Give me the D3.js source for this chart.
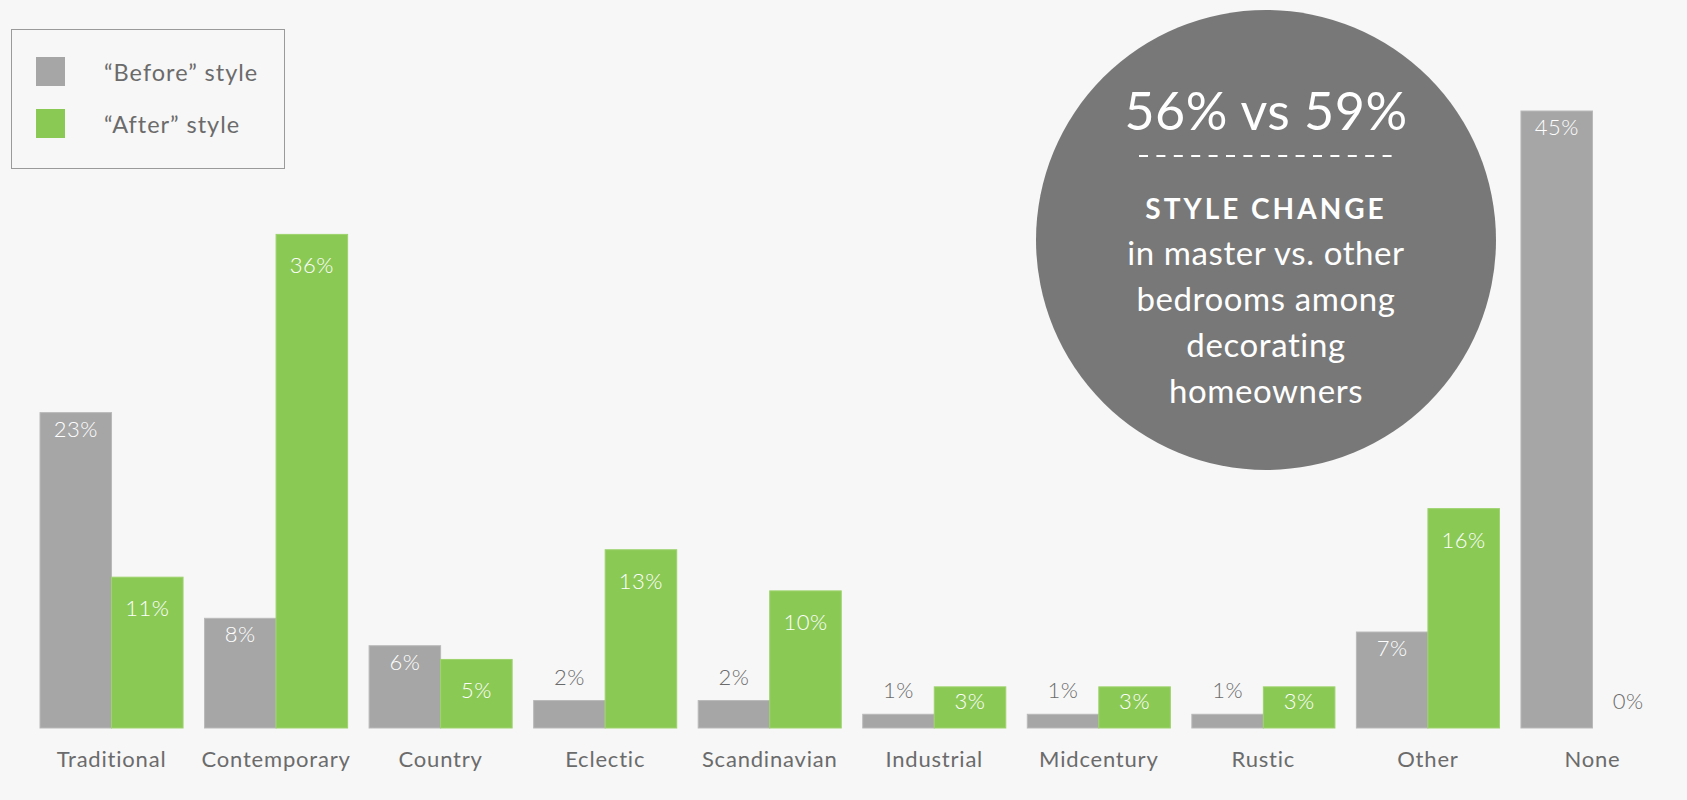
<!DOCTYPE html>
<html>
<head>
<meta charset="utf-8">
<script src="https://cdn.jsdelivr.net/npm/d3@7"></script>
<style>
  html, body { margin: 0; padding: 0; background: #f7f7f7; }
  svg { display: block; }
  text { font-family: Lato, "Open Sans", sans-serif; }
</style>
</head>
<body>
<svg id="chart" width="1687" height="800"></svg>
<script>
// Bedroom decorating styles, share of homeowners (%)
const categories = ["Traditional", "Contemporary", "Country", "Eclectic", "Scandinavian",
                    "Industrial", "Midcentury", "Rustic", "Other", "None"];
const beforeValues = [23, 8, 6, 2, 2, 1, 1, 1, 7, 45];
const afterValues  = [11, 36, 5, 13, 10, 3, 3, 3, 16, 0];
const seriesNames  = ["\u201CBefore\u201D style", "\u201CAfter\u201D style"];
const seriesColors = ["#a6a6a6", "#8bc955"];
const seriesEdges  = ["#b9b9b9", "#9dd36c"];

// Call-out bubble text
const headline = "56% vs 59%";
const calloutTitle = "STYLE CHANGE";
const calloutLines = ["in master vs. other", "bedrooms among", "decorating", "homeowners"];

const W = 1687, H = 800;
const baseY = 728, plotLeft = 40, plotRight = 1664;
const textGrey = "#6b6b6b";

const svg = d3.select("#chart");
svg.append("rect").attr("width", W).attr("height", H).attr("fill", "#f7f7f7");

const x0 = d3.scaleBand().domain(categories).range([plotLeft, plotRight])
  .paddingInner(0.1307).paddingOuter(0);
const x1 = d3.scaleBand().domain([0, 1]).range([0, x0.bandwidth()]).padding(0);
const y = d3.scaleLinear().domain([0, 45]).range([baseY, 111]);

const rows = categories.map((c, i) => ({
  category: c,
  values: [beforeValues[i], afterValues[i]]
}));

// Call-out circle (drawn under the bars)
const cx = 1266, cy = 240, r = 230;
const callout = svg.append("g");
callout.append("circle").attr("cx", cx).attr("cy", cy).attr("r", r).attr("fill", "#787878");
callout.append("text").attr("x", cx).attr("y", 130).attr("text-anchor", "middle")
  .attr("fill", "#fff").attr("font-size", 52).attr("font-weight", 400)
  .attr("letter-spacing", 0.5).text(headline);
callout.append("line").attr("x1", 1139).attr("x2", 1392).attr("y1", 156).attr("y2", 156)
  .attr("stroke", "#fff").attr("stroke-width", 2).attr("stroke-dasharray", "9,8.4");
callout.append("text").attr("x", cx).attr("y", 219).attr("text-anchor", "middle")
  .attr("fill", "#fff").attr("font-size", 28).attr("font-weight", 700)
  .attr("letter-spacing", 3).text(calloutTitle);
callout.selectAll("text.line").data(calloutLines).join("text").attr("class", "line")
  .attr("x", cx).attr("y", (d, i) => 265 + i * 46).attr("text-anchor", "middle")
  .attr("fill", "#fff").attr("font-size", 33).attr("letter-spacing", 0.6).text(d => d);

// Grouped bars
const groups = svg.append("g").selectAll("g").data(rows).join("g")
  .attr("transform", d => `translate(${x0(d.category)},0)`);

const cells = groups.selectAll("g.cell")
  .data(d => d.values.map((v, s) => ({ v, s })))
  .join("g").attr("class", "cell");

cells.append("rect")
  .attr("x", d => x1(d.s))
  .attr("y", d => y(d.v))
  .attr("width", x1.bandwidth())
  .attr("height", d => baseY - y(d.v))
  .attr("fill", d => seriesColors[d.s])
  .attr("stroke", d => d.v === 0 ? seriesColors[d.s] : seriesEdges[d.s])
  .attr("stroke-width", d => d.v === 0 ? 1.5 : 1);

// Value labels: inside near the top for tall bars, above for short ones
cells.append("text")
  .attr("x", d => x1(d.s) + x1.bandwidth() / 2)
  .attr("y", d => {
    const top = y(d.v), h = baseY - top;
    if (h > 30) return Math.min(top + (d.s === 0 ? 24 : 39), baseY - 19);
    return d.v === 0 ? baseY - 19 : top - 16;
  })
  .attr("text-anchor", "middle")
  .attr("font-size", 22)
  .attr("font-weight", 300)
  .attr("letter-spacing", 0.5)
  .attr("fill", d => (baseY - y(d.v) > 30) ? "#ffffff" : textGrey)
  .text(d => d.v + "%");

// Category axis (labels only)
const xAxis = svg.append("g").attr("transform", `translate(0,${baseY})`)
  .call(d3.axisBottom(x0).tickSize(0).tickPadding(0));
xAxis.select(".domain").remove();
xAxis.selectAll("text")
  .attr("y", 39).attr("dy", 0)
  .attr("font-size", 22).attr("fill", textGrey)
  .attr("letter-spacing", 0.8)
  .style("font-family", "Lato, 'Open Sans', sans-serif");

// Legend
const legend = svg.append("g");
legend.append("rect").attr("x", 11.5).attr("y", 29.5).attr("width", 273).attr("height", 139)
  .attr("fill", "none").attr("stroke", "#9a9a9a").attr("stroke-width", 1);
const items = legend.selectAll("g.item").data(seriesNames).join("g").attr("class", "item")
  .attr("transform", (d, i) => `translate(0,${57 + i * 52})`);
items.append("rect").attr("x", 36).attr("y", 0).attr("width", 29).attr("height", 29)
  .attr("fill", (d, i) => seriesColors[i]);
items.append("text").attr("x", 104).attr("y", 24).attr("font-size", 23.5)
  .attr("letter-spacing", 1).attr("fill", textGrey).text(d => d);
</script>
</body>
</html>
